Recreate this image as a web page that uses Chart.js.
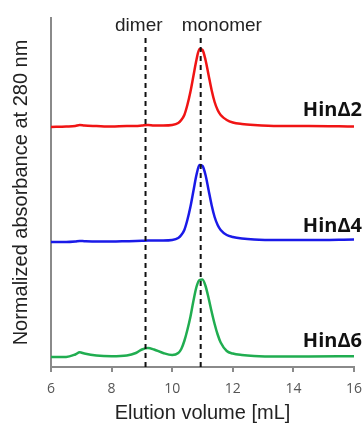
<!DOCTYPE html>
<html>
<head>
<meta charset="utf-8">
<script src="https://cdn.jsdelivr.net/npm/chart.js@4.4.1/dist/chart.umd.min.js"></script>
<style>
  html, body { margin: 0; padding: 0; background: #ffffff; }
  #wrap { width: 363px; height: 423px; position: relative; }
</style>
</head>
<body>
<div id="wrap"><canvas id="c" width="363" height="423"></canvas></div>
<script>
// Elution volume (mL) sample points
const elution = [6, 6.5, 6.8, 6.95, 7.1, 7.5, 8, 8.5, 8.8, 9.0, 9.2, 9.4, 9.7, 10.0, 10.2, 10.3, 10.4, 10.5, 10.6, 10.7, 10.8, 10.9, 11.0, 11.1, 11.2, 11.3, 11.4, 11.5, 11.6, 11.8, 12.0, 12.3, 12.7, 13.5, 14.5, 16];

// Normalized absorbance traces (stacked display units)
const hin2 = [2.40, 2.405, 2.41, 2.42, 2.415, 2.41, 2.405, 2.41, 2.41, 2.415, 2.42, 2.415, 2.415, 2.42, 2.44, 2.47, 2.52, 2.62, 2.75, 2.91, 3.07, 3.18, 3.17, 3.07, 2.92, 2.77, 2.65, 2.57, 2.52, 2.47, 2.445, 2.43, 2.42, 2.41, 2.41, 2.405];
const hin4 = [1.25, 1.25, 1.255, 1.26, 1.258, 1.255, 1.255, 1.258, 1.26, 1.262, 1.265, 1.265, 1.265, 1.27, 1.29, 1.32, 1.37, 1.47, 1.60, 1.76, 1.92, 2.02, 2.01, 1.92, 1.77, 1.62, 1.50, 1.42, 1.37, 1.32, 1.30, 1.285, 1.275, 1.27, 1.27, 1.275];
const hin6 = [0.10, 0.10, 0.125, 0.147, 0.135, 0.115, 0.108, 0.115, 0.14, 0.175, 0.19, 0.175, 0.14, 0.12, 0.14, 0.18, 0.26, 0.37, 0.50, 0.66, 0.80, 0.87, 0.875, 0.81, 0.69, 0.555, 0.43, 0.325, 0.245, 0.16, 0.135, 0.12, 0.11, 0.105, 0.105, 0.108];

const seriesNames = ['Hin\u03942', 'Hin\u03944', 'Hin\u03946'];
const seriesBase = [2.41, 1.253, 0.103];

// Reference elution positions
const markerNames = ['dimer', 'monomer'];
const markerVolumes = [9.12, 10.94];
const markerTop = 3.32;

const xTicks = [6, 8, 10, 12, 14, 16];

const toPts = (ys) => elution.map((x, i) => ({ x: x, y: ys[i] }));
const colors = ['#f01414', '#1a1ae8', '#20ad50'];

const datasets = [];
markerVolumes.forEach((v, i) => {
  datasets.push({
    label: markerNames[i],
    data: [{ x: v, y: 0 }, { x: v, y: markerTop }],
    borderColor: '#111111',
    borderWidth: 2,
    borderDash: [5, 4],
    pointRadius: 0,
    fill: false
  });
});
[hin2, hin4, hin6].forEach((ys, i) => {
  datasets.push({
    label: seriesNames[i],
    data: toPts(ys),
    borderColor: colors[i],
    borderWidth: 2.5,
    pointRadius: 0,
    cubicInterpolationMode: 'monotone',
    fill: false
  });
});

const labelPlugin = {
  id: 'labels',
  afterDatasetsDraw(chart) {
    const ctx = chart.ctx;
    const xs = chart.scales.x, ys = chart.scales.y;
    ctx.save();
    ctx.fillStyle = '#111111';
    ctx.font = 'bold 20px "Open Sans", "Liberation Sans", sans-serif';
    ctx.textAlign = 'right';
    ctx.textBaseline = 'alphabetic';
    seriesNames.forEach((n, i) => {
      ctx.fillText(n, xs.getPixelForValue(16) + 8, ys.getPixelForValue(seriesBase[i]) - 10);
    });
    ctx.font = '19px "Liberation Sans", Arial, sans-serif';
    ctx.fillStyle = '#222222';
    ctx.textAlign = 'right';
    ctx.fillText(markerNames[0], xs.getPixelForValue(markerVolumes[0]) + 17, 31);
    ctx.textAlign = 'left';
    ctx.fillText(markerNames[1], xs.getPixelForValue(markerVolumes[1]) - 19, 31);
    ctx.restore();
  }
};

new Chart(document.getElementById('c'), {
  type: 'line',
  data: { datasets: datasets },
  options: {
    responsive: false,
    animation: false,
    layout: { padding: { top: 18, right: 9, left: 0, bottom: 0 } },
    plugins: { legend: { display: false }, tooltip: { enabled: false } },
    scales: {
      x: {
        type: 'linear',
        min: 6, max: 16,
        afterBuildTicks: (s) => { s.ticks = xTicks.map(v => ({ value: v })); },
        afterFit: (s) => { s.height = 56; s.paddingLeft = 0; s.paddingRight = 0; },
        grid: { display: true, drawOnChartArea: false, drawTicks: true, tickLength: 5, color: '#8a8a8a', lineWidth: 2 },
        border: { display: true, color: '#8a8a8a', width: 2 },
        ticks: { color: '#555555', padding: 9, maxRotation: 0, font: { family: '"Open Sans", sans-serif', size: 14 } },
        title: { display: true, text: 'Elution volume [mL]', color: '#222222', padding: { top: 0, bottom: 0 }, font: { family: '"Liberation Sans", Arial, sans-serif', size: 20, lineHeight: 1 } }
      },
      y: {
        type: 'linear',
        min: 0, max: 3.49,
        afterFit: (s) => { s.width = 51; s.paddingTop = 0; s.paddingBottom = 0; },
        grid: { display: false },
        border: { display: true, color: '#8a8a8a', width: 2 },
        ticks: { display: false },
        title: { display: true, text: 'Normalized absorbance at 280 nm', color: '#222222', padding: { top: 11, bottom: 0 }, font: { family: '"Liberation Sans", Arial, sans-serif', size: 20, lineHeight: 1 } }
      }
    }
  },
  plugins: [labelPlugin]
});
</script>
</body>
</html>
